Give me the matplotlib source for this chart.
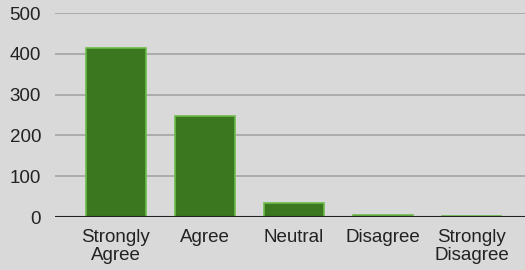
import matplotlib.pyplot as plt

categories = ['Strongly\nAgree', 'Agree', 'Neutral', 'Disagree', 'Strongly\nDisagree']
counts = [414, 248, 34, 6, 2]
yticks = [0, 100, 200, 300, 400, 500]

plt.rcParams['font.family'] = ['Liberation Sans', 'DejaVu Sans']

fig = plt.figure(figsize=(5.25, 2.7), dpi=100, facecolor='#d9d9d9')
ax = fig.add_axes([55 / 525, 53 / 270, 470 / 525, 204 / 270])
ax.set_facecolor('#d9d9d9')

x = list(range(len(categories)))
ax.bar(x, counts, width=0.67, color='#3a771e', edgecolor='#6dbb4c', linewidth=1.2, zorder=3)

ax.set_xlim(-0.685, 4.6)
ax.set_ylim(0, 500)
ax.set_yticks(yticks)
ax.set_xticks(x)
ax.set_xticklabels(categories, linespacing=1.0)
ax.grid(axis='y', color='#a3a3a3', linewidth=1.2, zorder=0)
ax.axhline(0, color='#222222', linewidth=1.5, zorder=4)
for s in ax.spines.values():
    s.set_visible(False)
ax.tick_params(length=0, labelsize=13.5, colors='#222222')
ax.tick_params(axis='y', pad=10)
ax.tick_params(axis='x', pad=9)

fig.savefig('out.png', dpi=100, facecolor='#d9d9d9')
